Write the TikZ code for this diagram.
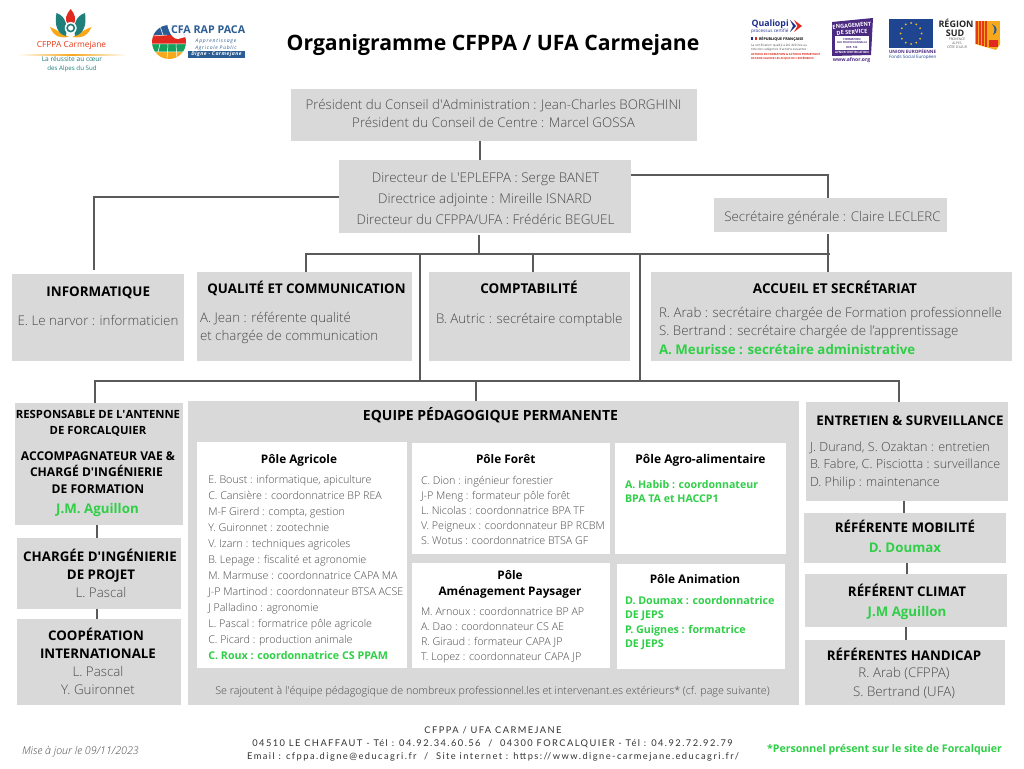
\documentclass[tikz,border=0pt]{standalone}
\usepackage{fontspec}
\setmainfont{Open Sans}[BoldFont={Open Sans Bold}]
\newfontfamily\lightf{Open Sans Light}[ItalicFont={Open Sans Light Italic}]
\newfontfamily\footf[LetterSpace=15.5]{Lato}
\usetikzlibrary{calc}
\definecolor{boxgrey}{HTML}{D9D9D9}
\definecolor{linegrey}{HTML}{5A5A5A}
\definecolor{txtgrey}{HTML}{4A4A4A}
\definecolor{okgreen}{HTML}{2FCF47}
\definecolor{logoteal}{HTML}{1E7F7B}
\definecolor{logored}{HTML}{E02A1F}
\definecolor{logoorange}{HTML}{F7A81B}
\definecolor{cfablue}{HTML}{2C5C94}
\definecolor{cfagreen}{HTML}{16A05D}
\definecolor{qualblue}{HTML}{1F2F8C}
\definecolor{afnor}{HTML}{4B2A82}
\definecolor{eublue}{HTML}{1F4591}
\newcommand\fz[1]{\fontsize{#1}{#1}\selectfont}
\newcommand\tth[2][13.4]{{\fz{#1}\bfseries\color{black}#2}}
\newcommand\bod[2][13.33]{{\fz{#1}\lightf\color{txtgrey}#2}}
\newcommand\grn[2][13.3]{{\fz{#1}\bfseries\color{okgreen}#2}}
\newcommand\aq{\textquotesingle}
\newcommand\bxx{0}
\newcommand\bxy{0}
% text placed by absolute pixel position inside a box
\newcommand\cat[3]{\vbox to 0pt{\kern\dimexpr#2pt-\bxy pt\relax\hbox to 0pt{\kern\dimexpr#1pt-\bxx pt\relax\smash{\hbox to 0pt{\hss#3\hss}}\hss}\vss}}
\newcommand\lat[3]{\vbox to 0pt{\kern\dimexpr#2pt-\bxy pt\relax\hbox to 0pt{\kern\dimexpr#1pt-\bxx pt\relax\smash{\hbox{#3}}\hss}\vss}}
% name, x1, y1, x2, y2, style, body
\newcommand\bx[7]{%
  \pgfmathsetmacro\bxw{#4-#2}\pgfmathsetmacro\bxh{#5-#3}%
  \pgfmathsetmacro\bxcx{(#2+#4)/2}\pgfmathsetmacro\bxcy{(#3+#5)/2}%
  \renewcommand\bxx{#2}\renewcommand\bxy{#3}%
  \node[#6,minimum width=\bxw pt,minimum height=\bxh pt] (#1) at (\bxcx,\bxcy)
    {\vbox to \bxh pt{\offinterlineskip\hbox to \bxw pt{\hfil}#7\vss}};}
\tikzset{
  greybox/.style={rectangle,fill=boxgrey,inner sep=0pt,outer sep=0pt},
  whitebox/.style={rectangle,fill=white,inner sep=0pt,outer sep=0pt},
  conn/.style={draw=linegrey,line width=2pt,line cap=butt,line join=miter},
  tinytext/.style={inner sep=0pt,outer sep=0pt}
}
\begin{document}
\begin{tikzpicture}[x=1pt,y=-1pt]
\useasboundingbox (0,0) rectangle (1024,768);
\fill[white] (0,0) rectangle (1024,768);

% ---- title
\node[tinytext,anchor=base] (title) at (493,50) {\fz{21.2}\bfseries Organigramme CFPPA / UFA Carmejane};

% ---- logo CFPPA
\fill[logoorange] (50,27) .. controls (54,38) and (62,38) .. (69,37) .. controls (62,34) and (56,29) .. cycle;
\fill[logoorange] (91.5,27) .. controls (87,38) and (79,38) .. (72.5,37) .. controls (79,34) and (85,29) .. cycle;
\fill[logoteal] (56.5,13) .. controls (65,16) and (68,24) .. (66,36) .. controls (58,34) and (54,26) .. cycle;
\fill[logoteal] (85,13) .. controls (76,16) and (73,24) .. (75,36) .. controls (83,34) and (87,26) .. cycle;
\fill[logored] (70.7,9) .. controls (75,15) and (77,19) .. (73,25) -- (68.4,25) .. controls (64,19) and (66,15) .. cycle;
\fill[white] (70.7,28) circle (6);
\draw[logoteal,line width=1.6pt] (70.7,28) circle (3.6);
\shade[left color=white,right color=logoorange] (18,54.4) rectangle (72,55.6);
\shade[left color=logoorange,right color=white] (72,54.4) rectangle (127,55.6);
\node[tinytext,anchor=base] (cfppaA) at (71.5,48) {\fz{8.4}\color{logored!80!orange}CFPPA Carmejane};
\node[tinytext,anchor=base] (cfppaB) at (72,62) {\fz{6.6}\color{logoteal}La réussite au cœur};
\node[tinytext,anchor=base] (cfppaC) at (72,70.5) {\fz{6.2}\color{logoteal}des Alpes du Sud};

% ---- logo CFA
\begin{scope}
\clip (169,42) circle (17);
\fill[cfablue] (152,25) rectangle (186,35);
\fill[logored] (152,35) rectangle (186,44);
\fill[cfagreen] (152,44) rectangle (186,52);
\fill[logoorange] (152,52) rectangle (186,60);
\fill[white] (167,24) -- (187,24) -- (187,36.5) -- (178,39) .. controls (174,39) and (170,36) .. cycle;
\draw[white,line width=.5pt] (152,36) -- (167,35) (152,44) -- (186,44) (152,52) -- (186,52) (160,26) -- (163,35) (160,44) -- (158,52) (168,44) -- (167,60) (176,44) -- (177,60);
\end{scope}
\node[tinytext,anchor=base west] (cfaA) at (171,33.5) {\fz{10.7}\bfseries\color{cfablue}CFA RAP PACA};
\node[tinytext,anchor=base] (cfaB) at (216,42) {\fz{5}\itshape\color{cfablue}\addfontfeature{LetterSpace=16}Apprentissage};
\node[tinytext,anchor=base] (cfaC) at (216,49) {\fz{5}\itshape\color{cfablue}\addfontfeature{LetterSpace=14}Agricole Public};
\node[rectangle,fill=cfablue,inner sep=0pt,minimum width=57pt,minimum height=7pt] (cfaD) at (216.5,54.5) {\fz{5}\bfseries\itshape\color{white}\addfontfeature{LetterSpace=10}Digne - Carmejane};

% ---- Qualiopi
\node[tinytext,anchor=base west] (qa) at (751.5,26.5) {\fz{8.8}\bfseries\color{qualblue}Qualiopi};
\fill[qualblue] (790,20) -- (796,26) -- (790,32) -- (793,26) -- cycle;
\fill[logored] (794,20) -- (802,26) -- (794,32) -- (797.5,26) -- cycle;
\node[tinytext,anchor=base west] (qb) at (751,32.6) {\fz{4.6}\color{qualblue}processus certifié};
\fill[qualblue] (751,37) rectangle (753,40);
\fill[logored] (755,37) rectangle (757,40);
\node[tinytext,anchor=base west] (qc) at (759,40.3) {\fz{3.7}\bfseries RÉPUBLIQUE FRANÇAISE};
\node[tinytext,anchor=base west] (qd) at (751,46.6) {\fz{3.2}\lightf La certification qualité a été délivrée au};
\node[tinytext,anchor=base west] (qe) at (751,51) {\fz{3.2}\lightf titre des catégories d\aq actions suivantes :};
\node[tinytext,anchor=base west] (qf) at (751,55.4) {\fz{2.8}\bfseries\color{logored}ACTIONS DE FORMATION \& ACTIONS PERMETTANT};
\node[tinytext,anchor=base west] (qg) at (751,59.8) {\fz{2.7}\bfseries\color{logored}DE FAIRE VALIDER LES ACQUIS DE L\aq EXPÉRIENCE};

% ---- AFNOR
\fill[afnor] (832,22) -- (873,18) -- (871,55) -- (832,56) -- cycle;
\node[tinytext,anchor=base,rotate=5] (aa) at (852,27.5) {\fz{5.6}\bfseries\color{white}ENGAGEMENT};
\node[tinytext,anchor=base,rotate=4] (ab) at (852,34) {\fz{5.6}\bfseries\color{white}DE SERVICE};
\fill[white] (835,36) rectangle (869,50);
\node[tinytext,anchor=base] (ac) at (852,40.5) {\fz{2.8}\bfseries\color{afnor}FORMATION};
\node[tinytext,anchor=base] (ad) at (852,44) {\fz{2.6}\bfseries\color{afnor}SUR PROFESSIONNELLE};
\node[tinytext,anchor=base] (ae) at (852,48.5) {\fz{2.8}\bfseries\color{afnor}REF. 132};
\node[tinytext,anchor=base] (af) at (852,54) {\fz{3}\bfseries\color{white}AFNOR CERTIFICATION};
\node[tinytext,anchor=base] (ag) at (851.5,61) {\fz{5}\bfseries\color{afnor}www.afnor.org};

% ---- EU
\fill[eublue] (889,19) rectangle (933,48);
\foreach \a in {0,30,...,330}{\fill[logoorange!70!yellow] ($(911,33.5)+(\a:10.5)$) circle (1);}
\node[tinytext,anchor=base west] (ea) at (889,53.4) {\fz{4.5}\bfseries\color{afnor}UNION EUROPÉENNE};
\node[tinytext,anchor=base west] (eb) at (889,58.6) {\fz{4.5}\color{eublue}Fonds Social Européen};

% ---- Region Sud
\node[tinytext,anchor=base] (ra) at (956,28) {\fz{9}\bfseries\color{black!85}RÉGION};
\node[tinytext,anchor=base] (rb) at (955,36.5) {\fz{9}\bfseries\color{black!85}SUD};
\node[tinytext,anchor=base] (rc) at (957,41) {\fz{3.3}\lightf PROVENCE};
\node[tinytext,anchor=base] (rd) at (957,44.7) {\fz{3.3}\lightf ALPES};
\node[tinytext,anchor=base] (re) at (957,48.4) {\fz{3.3}\lightf CÔTE D\aq AZUR};
\fill[logoorange] (975,21) rectangle (1000,40);
\fill[logoorange] (975,40) -- (975,44) -- (996,50) -- (1000,44) -- (1000,40) -- cycle;
\foreach \xx in {976,979,982,985}{\fill[logored!85!orange] (\xx,21) rectangle ({\xx+1.5},{44+(\xx-975)*.28});}
\fill[cfablue] (992,24) .. controls (998,26) and (998,33) .. (993,35) .. controls (995,31) and (995,27) .. cycle;
\fill[logored] (989,40) rectangle (998,47);

% ---- boxes
\bx{pres}{291}{89}{697}{141}{greybox}{%
 \cat{493.5}{109}{\bod{Président du Conseil d\aq Administration : Jean-Charles BORGHINI}}%
 \cat{493.5}{127}{\bod{Président du Conseil de Centre : Marcel GOSSA}}}
\bx{dir}{339}{160}{631}{233}{greybox}{%
 \cat{485.5}{182}{\bod[13.4]{Directeur de L\aq EPLEFPA : Serge BANET}}%
 \cat{485}{203}{\bod[13.4]{Directrice adjointe : Mireille ISNARD}}%
 \cat{485.5}{224}{\bod[13.4]{Directeur du CFPPA/UFA : Frédéric BEGUEL}}}
\bx{sec}{714}{198}{947}{232}{greybox}{%
 \cat{832.5}{221}{\bod{Secrétaire générale : Claire LECLERC}}}
\bx{info}{12}{274}{184}{361}{greybox}{%
 \cat{98.3}{296}{\tth{INFORMATIQUE}}%
 \cat{98}{325}{\bod{E. Le narvor : informaticien}}}
\bx{qual}{196.5}{272}{412}{361}{greybox}{%
 \cat{306.5}{293}{\tth[13.3]{QUALITÉ ET COMMUNICATION}}%
 \lat{200}{322}{\bod{A. Jean : référente qualité}}%
 \lat{200}{340}{\bod{et chargée de communication}}}
\bx{compta}{429}{272}{630}{361}{greybox}{%
 \cat{529}{293}{\tth[13.5]{COMPTABILITÉ}}%
 \lat{436}{323}{\bod{B. Autric : secrétaire comptable}}}
\bx{accueil}{651}{272}{1012}{361}{greybox}{%
 \cat{835}{293}{\tth[13.5]{ACCUEIL ET SECRÉTARIAT}}%
 \lat{659}{317}{\bod{R. Arab : secrétaire chargée de Formation professionnelle}}%
 \lat{659}{335}{\bod{S. Bertrand : secrétaire chargée de l’apprentissage}}%
 \lat{659}{354}{\grn{A. Meurisse : secrétaire administrative}}}

\bx{resp}{15}{403}{183}{525}{greybox}{%
 \cat{98}{418}{\tth[11.3]{RESPONSABLE DE L\aq ANTENNE}}%
 \cat{98}{434}{\tth[11.3]{DE FORCALQUIER}}%
 \cat{98}{460}{\tth[12.1]{ACCOMPAGNATEUR VAE \&}}%
 \cat{96.5}{476}{\tth[12.1]{CHARGÉ D\aq INGÉNIERIE}}%
 \cat{98}{493}{\tth[12.1]{DE FORMATION}}%
 \cat{97.5}{513}{\grn{J.M. Aguillon}}}
\bx{charge}{17}{538}{181}{609}{greybox}{%
 \cat{100}{561}{\tth[13.3]{CHARGÉE D\aq INGÉNIERIE}}%
 \cat{101}{579}{\tth[13.3]{DE PROJET}}%
 \cat{101}{597}{\bod{L. Pascal}}}
\bx{coop}{17}{619}{181}{705}{greybox}{%
 \cat{96}{640}{\tth[13.3]{COOPÉRATION}}%
 \cat{98}{658}{\tth[13.3]{INTERNATIONALE}}%
 \cat{98}{676}{\bod{L. Pascal}}%
 \cat{98}{694}{\bod{Y. Guironnet}}}

\bx{equipe}{188}{401}{799}{705}{greybox}{%
 \cat{490.5}{420}{\tth[14]{EQUIPE PÉDAGOGIQUE PERMANENTE}}%
 \cat{492.5}{694}{\bod[10.7]{Se rajoutent à l\aq équipe pédagogique de nombreux professionnel.les et intervenant.es extérieurs* (cf. page suivante)}}}

\bx{agri}{197}{442}{407}{668}{whitebox}{%
 \cat{299}{463}{\tth[11.8]{Pôle Agricole}}%
 \lat{208.3}{483}{\bod[10.7]{E. Boust : informatique, apiculture}}%
 \lat{208.3}{499}{\bod[10.7]{C. Cansière : coordonnatrice BP REA}}%
 \lat{208.3}{515}{\bod[10.7]{M-F Girerd : compta, gestion}}%
 \lat{208.3}{531}{\bod[10.7]{Y. Guironnet : zootechnie}}%
 \lat{208.3}{547}{\bod[10.7]{V. Izarn : techniques agricoles}}%
 \lat{208.3}{563}{\bod[10.7]{B. Lepage : fiscalité et agronomie}}%
 \lat{208.3}{579}{\bod[10.7]{M. Marmuse : coordonnatrice CAPA MA}}%
 \lat{208.3}{595}{\bod[10.7]{J-P Martinod : coordonnateur BTSA ACSE}}%
 \lat{208.3}{611}{\bod[10.7]{J Palladino : agronomie}}%
 \lat{208.3}{627}{\bod[10.7]{L. Pascal : formatrice pôle agricole}}%
 \lat{208.3}{643}{\bod[10.7]{C. Picard : production animale}}%
 \lat{208.3}{659}{\grn[10.7]{C. Roux : coordonnatrice CS PPAM}}}
\bx{foret}{412}{443}{610}{554}{whitebox}{%
 \cat{505.7}{463}{\tth[11.8]{Pôle Forêt}}%
 \lat{421}{484}{\bod[10.7]{C. Dion : ingénieur forestier}}%
 \lat{421}{499}{\bod[10.7]{J-P Meng : formateur pôle forêt}}%
 \lat{421}{514}{\bod[10.7]{L. Nicolas : coordonnatrice BPA TF}}%
 \lat{421}{529}{\bod[10.7]{V. Peigneux : coordonnateur BP RCBM}}%
 \lat{421}{544}{\bod[10.7]{S. Wotus : coordonnatrice BTSA GF}}}
\bx{amen}{412}{563}{610}{668}{whitebox}{%
 \cat{510}{579}{\tth[11.8]{Pôle}}%
 \cat{510}{595}{\tth[11.8]{Aménagement Paysager}}%
 \lat{421}{615}{\bod[10.7]{M. Arnoux : coordonnatrice BP AP}}%
 \lat{421}{630}{\bod[10.7]{A. Dao : coordonnateur CS AE}}%
 \lat{421}{645}{\bod[10.7]{R. Giraud : formateur CAPA JP}}%
 \lat{421}{660}{\bod[10.7]{T. Lopez : coordonnateur CAPA JP}}}
\bx{agro}{615}{443}{786}{554}{whitebox}{%
 \cat{700.5}{463}{\tth[12]{Pôle Agro-alimentaire}}%
 \lat{625}{488}{\grn[10.6]{A. Habib : coordonnateur}}%
 \lat{625}{502}{\grn[10.6]{BPA TA et HACCP1}}}
\bx{anim}{617}{564}{785}{669}{whitebox}{%
 \cat{695}{583}{\tth[11.8]{Pôle Animation}}%
 \lat{625}{604}{\grn[10.7]{D. Doumax : coordonnatrice}}%
 \lat{625}{618}{\grn[10.7]{DE JEPS}}%
 \lat{625}{633}{\grn[10.7]{P. Guignes : formatrice}}%
 \lat{625}{647}{\grn[10.7]{DE JEPS}}}

\bx{entre}{806}{402}{1008}{501}{greybox}{%
 \cat{910}{425}{\tth[13.3]{ENTRETIEN \& SURVEILLANCE}}%
 \lat{810}{451}{\bod[12.6]{J. Durand, S. Ozaktan : entretien}}%
 \lat{810}{468}{\bod[12.6]{B. Fabre, C. Pisciotta : surveillance}}%
 \lat{810}{486}{\bod[12.6]{D. Philip : maintenance}}}
\bx{mob}{804}{513}{1006}{563}{greybox}{%
 \cat{905}{532}{\tth[13.3]{RÉFÉRENTE MOBILITÉ}}%
 \cat{905}{552}{\grn{D. Doumax}}}
\bx{clim}{805}{574}{1007}{627}{greybox}{%
 \cat{907}{596}{\tth[13.3]{RÉFÉRENT CLIMAT}}%
 \cat{907}{616}{\grn{J.M Aguillon}}}
\bx{handi}{805}{640}{1005}{705}{greybox}{%
 \cat{904}{660}{\tth[13.3]{RÉFÉRENTES HANDICAP}}%
 \cat{904}{677}{\bod{R. Arab (CFPPA)}}%
 \cat{904}{696}{\bod{S. Bertrand (UFA)}}}

% ---- junction coordinates
\coordinate (vA) at (480,150);
\coordinate (jL) at (93.5,196.5);
\coordinate (jR) at (828,175);
\coordinate (jB) at (479,254);
\coordinate (jQ) at (306,254);
\coordinate (jM) at (420,254);
\coordinate (jC) at (533,254);
\coordinate (jN) at (640,254);
\coordinate (jS) at (828,254);
\coordinate (hL) at (94.5,381);
\coordinate (hM) at (420,381);
\coordinate (hE) at (476,381);
\coordinate (hN) at (640,381);
\coordinate (hR) at (899,381);

% ---- connectors
\draw[conn] (pres.south -| vA) -- (dir.north -| vA);
\draw[conn] (dir.west |- jL) -- (jL) -- ([yshift=4pt]info.north -| jL);
\draw[conn] (dir.east |- jR) -- (jR) -- (sec.north -| jR);
\draw[conn] ([yshift=-2pt]dir.south -| jB) -- (jB);
\draw[conn] ([yshift=-2pt]sec.south -| jS) -- (accueil.north -| jS);
\draw[conn] (qual.north -| jQ) -- (jQ) -- ([xshift=2pt]jS);
\draw[conn] (jM) -- (hM);
\draw[conn] (compta.north -| jC) -- (jC);
\draw[conn] (jN) -- (hN);
\draw[conn] (resp.north -| hL) -- (hL) -- (hR) -- (entre.north -| hR);
\draw[conn] (hE) -- (equipe.north -| hE);
\coordinate (cA) at (96.5,0);
\coordinate (cB) at (97,0);
\coordinate (cC) at (904,0);
\coordinate (cD) at (907,0);
\coordinate (cE) at (906,0);
\draw[conn] (resp.south -| cA) -- (charge.north -| cA);
\draw[conn] (charge.south -| cB) -- (coop.north -| cB);
\draw[conn] (entre.south -| cC) -- (mob.north -| cC);
\draw[conn] (mob.south -| cD) -- (clim.north -| cD);
\draw[conn] (clim.south -| cE) -- (handi.north -| cE);

% ---- footer
\node[tinytext,anchor=base] (fa) at (493,733) {\fz{9.3}\footf\color{black!80}CFPPA / UFA CARMEJANE};
\node[tinytext,anchor=base] (fb) at (492.5,746) {\fz{9.3}\footf\color{black!80}04510 LE CHAFFAUT - Tél : 04.92.34.60.56 \ / \ 04300 FORCALQUIER - Tél : 04.92.72.92.79};
\node[tinytext,anchor=base] (fc) at (493,759) {\fz{9.3}\footf\color{black!80}Email : cfppa.digne@educagri.fr \ / \ Site internet : https://www.digne-carmejane.educagri.fr/};
\node[tinytext,anchor=base west] (fd) at (22,754) {\fz{10.7}\lightf\itshape\color{txtgrey}Mise à jour le 09/11/2023};
\node[tinytext,anchor=base east] (fe) at (1002,752) {\fz{10.6}\bfseries\color{okgreen}*Personnel présent sur le site de Forcalquier};
\end{tikzpicture}
\end{document}
